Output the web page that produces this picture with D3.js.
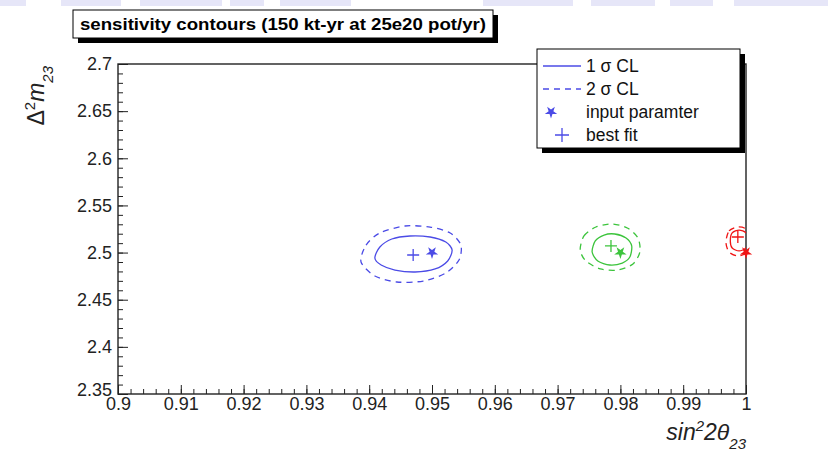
<!DOCTYPE html>
<html>
<head>
<meta charset="utf-8">
<script src="https://cdn.jsdelivr.net/npm/d3@7"></script>
<style>
  body { margin: 0; background: #fff; }
  svg { display: block; font-family: "Liberation Sans", Arial, Helvetica, sans-serif; }
</style>
</head>
<body>
<div id="grafico"></div>
<script>
const ANCHO = 828;
const ALTO = 459;

// ejes
const X_DOMINIO = [0.9, 1.0];
const Y_DOMINIO = [2.35, 2.7];
const X_TICKS = [0.9, 0.91, 0.92, 0.93, 0.94, 0.95, 0.96, 0.97, 0.98, 0.99, 1];
const Y_TICKS = [2.35, 2.4, 2.45, 2.5, 2.55, 2.6, 2.65, 2.7];

// contornos [sin^2 2theta, dm2]
const azul1s = [[0.9409, 2.4942], [0.9417, 2.5059], [0.9436, 2.5144], [0.9465, 2.5176], [0.9497, 2.5165], [0.9522, 2.5112],
    [0.9532, 2.5027], [0.9525, 2.4911], [0.9505, 2.4826], [0.9473, 2.4794], [0.9441, 2.4815], [0.9419, 2.4868]];
const azul2s = [[0.9387, 2.4900], [0.9395, 2.5080], [0.9417, 2.5208], [0.9457, 2.5282], [0.9497, 2.5271], [0.9529, 2.5208],
    [0.9546, 2.5080], [0.9543, 2.4921], [0.9522, 2.4783], [0.9486, 2.4698], [0.9444, 2.4688], [0.9409, 2.4752]];
const verde1s = [[0.9755, 2.5006], [0.9760, 2.5123], [0.9774, 2.5186], [0.9791, 2.5197], [0.9809, 2.5155],
    [0.9818, 2.5070], [0.9815, 2.4953], [0.9803, 2.4889], [0.9783, 2.4868], [0.9764, 2.4911]];
const verde2s = [[0.9736, 2.5027], [0.9742, 2.5176], [0.9761, 2.5271], [0.9787, 2.5303], [0.9811, 2.5261], [0.9828, 2.5155],
    [0.9831, 2.5006], [0.9820, 2.4879], [0.9796, 2.4815], [0.9768, 2.4826], [0.9745, 2.4911]];
const rojo1s = [[0.9975, 2.5123], [0.9978, 2.5208], [0.9989, 2.5239], [1.0000, 2.5208], [1.0003, 2.5123],
    [1.0000, 2.5048], [0.9989, 2.5017], [0.9978, 2.5048]];
const rojo2s = [[0.9968, 2.5112], [0.9973, 2.5229], [0.9986, 2.5271], [1.0000, 2.5250], [1.0006, 2.5133],
    [1.0002, 2.5006], [0.9987, 2.4964], [0.9973, 2.5006]];

// parametro de entrada y mejor ajuste
const entrada = [[0.95, 2.5], [0.98, 2.5], [1.0, 2.5]];
const mejorAjuste = [[0.9470, 2.4974], [0.9785, 2.5070], [0.9987, 2.5165]];
const COLORES = ["#4b4be6", "#3cc43c", "#f01414"];

const contornos = [
    {puntos: azul1s, color: COLORES[0], discontinua: false},
    {puntos: azul2s, color: COLORES[0], discontinua: true},
    {puntos: verde1s, color: COLORES[1], discontinua: false},
    {puntos: verde2s, color: COLORES[1], discontinua: true},
    {puntos: rojo1s, color: COLORES[2], discontinua: false},
    {puntos: rojo2s, color: COLORES[2], discontinua: true},
];

const TITULO = "sensitivity contours (150 kt-yr at 25e20 pot/yr)";

const IZQ = 118, DER = 746, ARRIBA = 64, ABAJO = 394;

const x = d3.scaleLinear().domain(X_DOMINIO).range([IZQ, DER]);
const y = d3.scaleLinear().domain(Y_DOMINIO).range([ABAJO, ARRIBA]);

const $svg = d3.select("#grafico")
    .append("svg")
    .attr("width", ANCHO)
    .attr("height", ALTO);

$svg.append("rect").attr("width", ANCHO).attr("height", ALTO).attr("fill", "#fff");

// franjas lilas de la parte de arriba (restos de la diapositiva)
const franjas = [[0, 26], [61, 121], [140, 222], [230, 264], [280, 351], [483, 573], [591, 655], [670, 713], [734, 828]];
$svg.selectAll("rect.franja")
    .data(franjas)
    .enter()
    .append("rect")
    .attr("class", "franja")
    .attr("x", d => d[0])
    .attr("y", 0)
    .attr("width", d => d[1] - d[0])
    .attr("height", 6)
    .attr("fill", "#e6e6f8");

// ejes con marcas hacia dentro
const ejeX = $svg.append("g").attr("transform", `translate(0,${ABAJO})`)
    .call(d3.axisBottom(x).tickValues(X_TICKS).tickSize(-9).tickPadding(3).tickFormat(d3.format("")));
const ejeXmenor = $svg.append("g").attr("transform", `translate(0,${ABAJO})`)
    .call(d3.axisBottom(x).ticks(50).tickSize(-5).tickFormat(""));
const ejeY = $svg.append("g").attr("transform", `translate(${IZQ},0)`)
    .call(d3.axisLeft(y).tickValues(Y_TICKS).tickSize(-10).tickPadding(6).tickFormat(d3.format("")));
const ejeYmenor = $svg.append("g").attr("transform", `translate(${IZQ},0)`)
    .call(d3.axisLeft(y).tickValues(d3.range(0, 36).map(i => 2.35 + i * 0.01)).tickSize(-5).tickFormat(""));

for (const eje of [ejeX, ejeXmenor, ejeY, ejeYmenor]) {
    eje.select(".domain").remove();
    eje.selectAll("line").attr("stroke", "#222").attr("stroke-width", 1);
    eje.selectAll("text").attr("fill", "#222").attr("font-size", 18).attr("font-family", "Liberation Sans, Arial, sans-serif");
}
// 2.35 un poco hacia arriba como en el original
ejeY.selectAll(".tick text").filter(d => d === 2.35).attr("dy", "0.1em");

// marco
$svg.append("rect")
    .attr("x", IZQ).attr("y", ARRIBA)
    .attr("width", DER - IZQ).attr("height", ABAJO - ARRIBA)
    .attr("fill", "none").attr("stroke", "#222").attr("stroke-width", 1.4);

// contornos
$svg.append("clipPath").attr("id", "recorte")
    .append("rect").attr("x", IZQ).attr("y", ARRIBA).attr("width", DER - IZQ).attr("height", ABAJO - ARRIBA);

const linea = d3.line()
    .x(d => x(d[0]))
    .y(d => y(d[1]))
    .curve(d3.curveCardinalClosed.tension(0.2));

$svg.append("g").attr("clip-path", "url(#recorte)")
    .selectAll("path")
    .data(contornos)
    .enter()
    .append("path")
    .attr("d", d => linea(d.puntos))
    .attr("fill", "none")
    .attr("stroke", d => d.color)
    .attr("stroke-width", 1.3)
    .attr("stroke-dasharray", d => d.discontinua ? "6,5" : null);

const estrella = d3.symbol().type(d3.symbolStar).size(48);
const cruz = (cx, cy, r) => `M${cx - r},${cy}H${cx + r}M${cx},${cy - r}V${cy + r}`;

$svg.selectAll("path.cruz")
    .data(mejorAjuste)
    .enter()
    .append("path")
    .attr("class", "cruz")
    .attr("d", (d) => cruz(x(d[0]), y(d[1]), 6))
    .attr("stroke", (d, i) => COLORES[i])
    .attr("stroke-width", 1.3)
    .attr("fill", "none");

$svg.selectAll("path.estrella")
    .data(entrada)
    .enter()
    .append("path")
    .attr("class", "estrella")
    .attr("d", estrella)
    .attr("transform", d => `translate(${x(d[0])},${y(d[1])}) rotate(180)`)
    .attr("fill", (d, i) => COLORES[i]);

// titulo de ejes
$svg.append("text")
    .attr("x", DER).attr("y", 440)
    .attr("text-anchor", "end")
    .attr("font-size", 23)
    .attr("fill", "#222")
    .html('<tspan font-style="italic">sin</tspan><tspan dy="-9" font-size="15" font-style="italic">2</tspan><tspan dy="9" font-style="italic">2θ</tspan><tspan dy="9" font-size="15" font-style="italic">23</tspan>');

$svg.append("text")
    .attr("transform", `translate(44,${ARRIBA + 2}) rotate(-90)`)
    .attr("text-anchor", "end")
    .attr("font-size", 23)
    .attr("fill", "#222")
    .html('Δ<tspan dy="-9" font-size="15">2</tspan><tspan dy="9" font-style="italic">m</tspan><tspan dy="9" font-size="15" font-style="italic">23</tspan>');

// titulo con sombra
$svg.append("rect").attr("x", 78).attr("y", 15).attr("width", 420).attr("height", 28).attr("fill", "#000");
$svg.append("rect").attr("x", 73).attr("y", 10).attr("width", 420).attr("height", 28)
    .attr("fill", "#fff").attr("stroke", "#000").attr("stroke-width", 1);
$svg.append("text")
    .attr("x", 80).attr("y", 30)
    .attr("font-size", 17).attr("font-weight", "bold")
    .attr("textLength", 406).attr("lengthAdjust", "spacingAndGlyphs")
    .text(TITULO);

// leyenda
const LX = 537, LY = 49, LW = 203, LH = 99;
$svg.append("rect").attr("x", LX + 5).attr("y", LY + 5).attr("width", LW).attr("height", LH).attr("fill", "#000");
$svg.append("rect").attr("x", LX).attr("y", LY).attr("width", LW).attr("height", LH)
    .attr("fill", "#fff").attr("stroke", "#000").attr("stroke-width", 1);

const leyenda = [
    {texto: "1 σ CL", tipo: "linea"},
    {texto: "2 σ CL", tipo: "discontinua"},
    {texto: "input paramter", tipo: "estrella"},
    {texto: "best fit", tipo: "cruz"},
];
leyenda.forEach((e, i) => {
    const fy = LY + 17 + i * 23;
    if (e.tipo === "linea" || e.tipo === "discontinua") {
        $svg.append("line").attr("x1", LX + 6).attr("x2", LX + 44).attr("y1", fy).attr("y2", fy)
            .attr("stroke", COLORES[0]).attr("stroke-width", 1.3)
            .attr("stroke-dasharray", e.tipo === "discontinua" ? "6,5" : null);
    } else if (e.tipo === "estrella") {
        $svg.append("path").attr("d", estrella)
            .attr("transform", `translate(${LX + 14},${fy}) rotate(180)`).attr("fill", COLORES[0]);
    } else {
        $svg.append("path").attr("d", cruz(LX + 25, fy, 7)).attr("stroke", COLORES[0]).attr("stroke-width", 1.3);
    }
    $svg.append("text")
        .attr("x", LX + 49)
        .attr("y", fy + 6)
        .attr("font-size", 17.5)
        .attr("fill", "#111")
        .text(e.texto);
});
</script>
</body>
</html>
